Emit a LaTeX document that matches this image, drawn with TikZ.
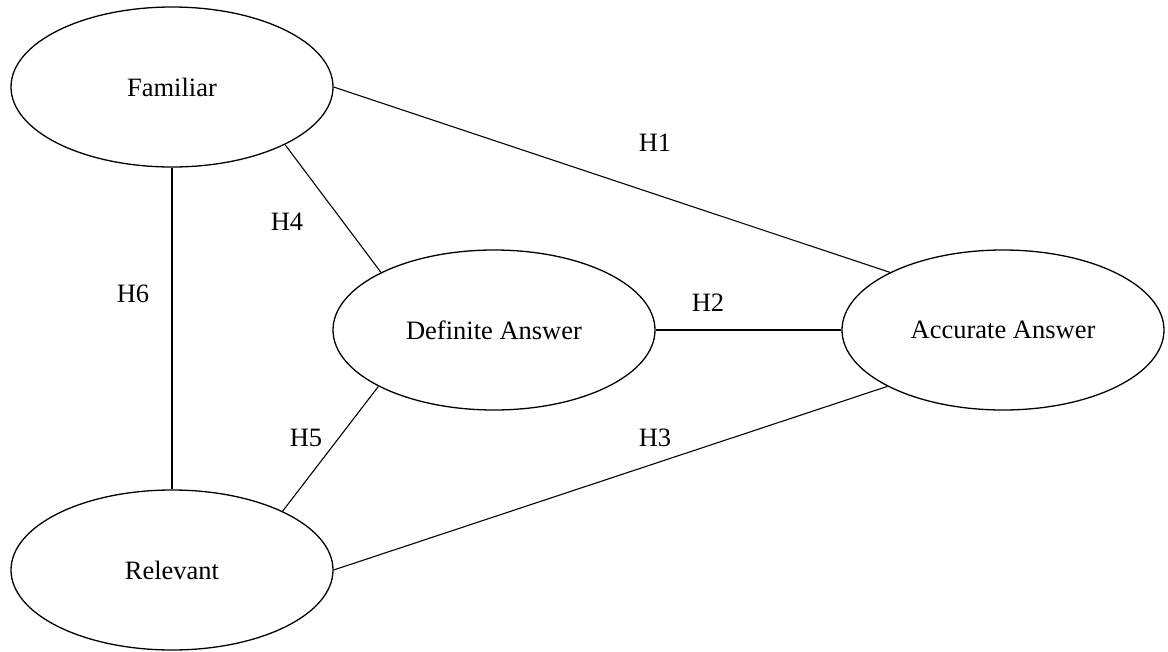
\documentclass[tikz,border=0pt]{standalone}
\usepackage{fontspec}
\setmainfont{Liberation Serif}
\usetikzlibrary{shapes.geometric}
\begin{document}
\begin{tikzpicture}[x=1pt,y=-1pt,
  construct/.style={ellipse,draw,line width=1.3pt,minimum width=322pt,minimum height=160pt,inner sep=0pt,font=\fontsize{26.5}{30}\selectfont},
  link/.style={draw,line width=1.1pt},
  hlabel/.style={font=\fontsize{26.5}{30}\selectfont,inner sep=0pt}]
\useasboundingbox (0,0) rectangle (1168,651);
\node[construct] (fam) at (172,87) {Familiar};
\node[construct] (rel) at (172,570) {Relevant};
\node[construct] (def) at (494,330) {Definite Answer};
\node[construct] (acc) at (1003,330) {Accurate Answer};
\draw[link] (fam.east) -- (acc.153.6);
\draw[link] (def.east) -- (acc.west);
\draw[link] (rel.east) -- (acc.206.4);
\draw[link] (fam.-27) -- (def.153);
\draw[link] (def.206) -- (rel.28);
\draw[link] (fam.south) -- (rel.north);
\node[hlabel] (h1) at (655,143) {H1};
\node[hlabel] (h2) at (708,303) {H2};
\node[hlabel] (h3) at (655,438) {H3};
\node[hlabel] (h4) at (287,222) {H4};
\node[hlabel] (h5) at (306,438) {H5};
\node[hlabel] (h6) at (133,294) {H6};
\end{tikzpicture}
\end{document}
